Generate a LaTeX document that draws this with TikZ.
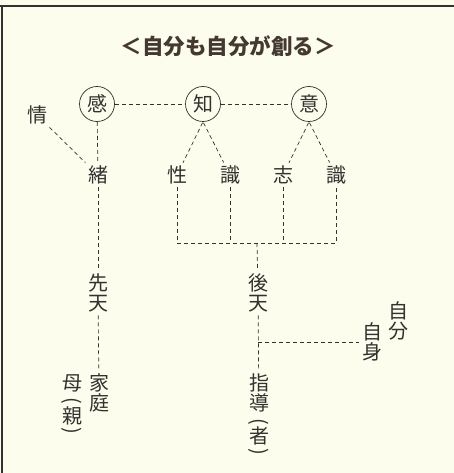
\documentclass[tikz,border=0pt]{standalone}
\usepackage{fontspec}
\usepackage{graphicx}
\setmainfont{Noto Sans CJK JP}
\definecolor{paper}{RGB}{252,253,236}
\definecolor{ink}{RGB}{50,50,48}
\definecolor{titleink}{RGB}{68,56,48}
\newcommand{\upparen}{\rotatebox[origin=c]{-90}{(}}
\newcommand{\downparen}{\rotatebox[origin=c]{-90}{)}}

\tikzset{
		word/.style={text=ink, inner sep=3pt, align=center, font=\fontsize{20pt}{20pt}\selectfont},
		ring/.style={word, draw=ink, circle, line width=0.7pt, minimum size=35pt, inner sep=0pt},
		link/.style={ink, line width=0.7pt, dash pattern=on 4pt off 3pt},
		frame/.style={ink, line width=1.6pt}
	}

\begin{document}
\begin{tikzpicture}[x=1pt, y=-1pt]
	
	\useasboundingbox (0,0) rectangle (454,473);
	\fill[paper] (0,0) rectangle (454,473);
	\draw[frame] (0,6) -- (454,6);
	\draw[frame] (2,6) -- (2,473);
	
	\node (title) at (228,46) [text=titleink, font=\fontsize{21.5pt}{21.5pt}\selectfont\bfseries] {＜自分も自分が創る＞};
	
	\node (kan) at (97,104) [ring] {感};
	\node (chi) at (203,104) [ring] {知};
	\node (ii) at (309,104) [ring] {意};
	
	\node (jou) at (37,115) [word] {情};
	\node (cho) at (98,175) [word] {緒};
	\node (sei) at (177,175) [word] {性};
	\node (shiki1) at (230,175) [word] {識};
	\node (shi) at (283,175) [word] {志};
	\node (shiki2) at (336,175) [word] {識};
	
	\node (senten) at (98,293) [word] {先\\天};
	\node (katei) at (99,393) [word] {家\\庭};
	\node (haha) at (72,406) [word] {母\\[-3pt]\upparen\\[-4pt]親\\[-6pt]\downparen};
	
	\node (kouten) at (258,293) [word] {後\\天};
	\node (shidou) at (259,416) [word] {指\\導\\[-2pt]\upparen\\[-5pt]者\\[-5pt]\downparen};
	\node (jishin) at (372,342) [word] {自\\身};
	\node (jibun) at (398,321) [word] {自\\分};
	
	\coordinate (fork) at (257,243);
	
	\draw[link] (kan) -- (chi);
	\draw[link] (chi) -- (ii);
	\draw[link] (jou) -- (cho);
	\draw[link] (kan) -- (cho);
	\draw[link, shorten <=1pt] (chi.south) -- (sei);
	\draw[link, shorten <=1pt] (chi.south) -- (shiki1);
	\draw[link, shorten <=1pt] (ii.south) -- (shi);
	\draw[link, shorten <=1pt] (ii.south) -- (shiki2);
	
	\draw[link] (sei) -- (sei |- fork) -- (shiki2 |- fork) -- (shiki2);
	\draw[link] (shiki1) -- (shiki1 |- fork);
	\draw[link] (shi) -- (shi |- fork);
	\draw[link] (fork) -- (kouten);
	
	\draw[link] (cho) -- (senten);
	\draw[link] (senten) -- (katei);
	\draw[link] (kouten) -- (shidou);
	\draw[link] (kouten |- jishin) -- (jishin);
	
\end{tikzpicture}
\end{document}
